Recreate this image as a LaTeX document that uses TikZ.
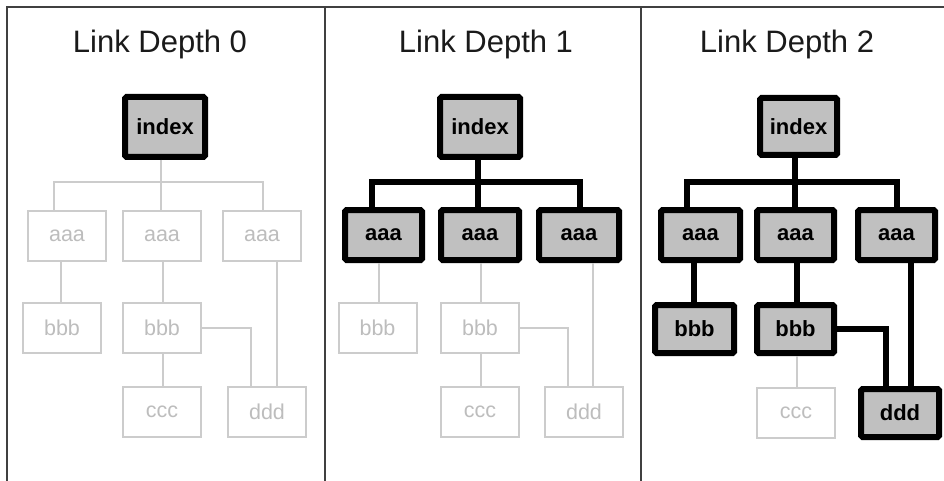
\documentclass[tikz,border=0pt]{standalone}
\usepackage{fontspec}
\setmainfont{Liberation Sans}
\definecolor{framec}{HTML}{404040}
\definecolor{offline}{HTML}{CCCCCC}
\definecolor{offtext}{HTML}{BDBDBD}
\definecolor{onfill}{HTML}{C0C0C0}
\definecolor{titlec}{HTML}{1A1A1A}
\begin{document}
\begin{tikzpicture}[x=1pt,y=-1pt,
  framel/.style={draw=framec,line width=2pt},
  title/.style={anchor=base,font=\fontsize{31}{31}\selectfont,text=titlec,inner sep=0pt},
  onbox/.style={draw=black,line width=6pt,fill=onfill,rounded corners=1.5pt,
    font=\fontsize{22}{22}\selectfont\bfseries,inner sep=0pt,
    minimum width=78pt,minimum height=50pt},
  offbox/.style={draw=offline,line width=2pt,fill=white,text=offtext,
    font=\fontsize{21.5}{21.5}\selectfont,inner sep=0pt,
    minimum width=78pt,minimum height=50pt},
  onln/.style={draw=black,line width=6pt},
  offln/.style={draw=offline,line width=2pt}]
\useasboundingbox (0,0) rectangle (944,481);
% frame
\draw[framel] (7,481) -- (7,7) -- (944,7);
\draw[framel] (325,7) -- (325,481);
\draw[framel] (641,7) -- (641,481);
% titles
\node[title] (t0) at (160,53) {Link Depth 0};
\node[title] (t1) at (486,53) {Link Depth 1};
\node[title] (t2) at (787,53) {Link Depth 2};

% ---------------- Panel 0
\node[onbox,minimum width=80pt,minimum height=60pt] (i0) at (165,127) {index};
\node[offbox] (a01) at (67,236) {aaa};
\node[offbox] (a02) at (162,236) {aaa};
\node[offbox] (a03) at (262,236) {aaa};
\node[offbox] (b01) at (62,328) {bbb};
\node[offbox] (b02) at (162,328) {bbb};
\node[offbox] (c0) at (162,412) {ccc};
\node[offbox] (d0) at (267,412) {ddd};
\coordinate (l0) at (54,182);
\coordinate (m0) at (161,182);
\coordinate (r0) at (263,182);
\coordinate (v01) at (61,0);
\coordinate (v02) at (163,0);
\coordinate (k0) at (251,0);
\coordinate (w0) at (277,0);
\draw[offln] (i0.south -| m0) -- (m0);
\draw[offln] (a01.north -| l0) -- (l0) -- (r0) -- (a03.north -| r0);
\draw[offln] (m0) -- (a02.north -| m0);
\draw[offln] (a01.south -| v01) -- (b01.north -| v01);
\draw[offln] (a02.south -| v02) -- (b02.north -| v02);
\draw[offln] (b02.south -| v02) -- (c0.north -| v02);
\draw[offln] (b02.east) -- (b02.east -| k0) -- (d0.north -| k0);
\draw[offln] (a03.south -| w0) -- (d0.north -| w0);

% ---------------- Panel 1
\node[onbox,minimum width=80pt,minimum height=60pt] (i1) at (480,127) {index};
\node[onbox,minimum width=77pt] (a11) at (383.5,235) {aaa};
\node[onbox] (a12) at (480,235) {aaa};
\node[onbox,minimum width=80pt] (a13) at (579,235) {aaa};
\node[offbox] (b11) at (377.5,328) {bbb};
\node[offbox] (b12) at (480,328) {bbb};
\node[offbox] (c1) at (480,412) {ccc};
\node[offbox] (d1) at (584,412) {ddd};
\coordinate (l1) at (372,182);
\coordinate (m1) at (478,182);
\coordinate (r1) at (580,182);
\coordinate (v11) at (379,0);
\coordinate (v12) at (481,0);
\coordinate (k1) at (568,0);
\coordinate (w1) at (593,0);
\draw[offln] (a11.south -| v11) -- (b11.north -| v11);
\draw[offln] (a12.south -| v12) -- (b12.north -| v12);
\draw[offln] (b12.south -| v12) -- (c1.north -| v12);
\draw[offln] (b12.east) -- (b12.east -| k1) -- (d1.north -| k1);
\draw[offln] (a13.south -| w1) -- (d1.north -| w1);
\draw[onln] (i1.south -| m1) -- (m1);
\draw[onln] (a11.north -| l1) -- (l1) -- (r1) -- (a13.north -| r1);
\draw[onln] (m1) -- (a12.north -| m1);

% ---------------- Panel 2
\node[onbox,minimum width=77pt,minimum height=57pt] (i2) at (798.5,126.5) {index};
\node[onbox,minimum width=79pt] (a21) at (700.5,235) {aaa};
\node[onbox,minimum width=77pt] (a22) at (795.5,235) {aaa};
\node[onbox,minimum width=77pt] (a23) at (896.5,235) {aaa};
\node[onbox,minimum width=79pt,minimum height=48pt] (b21) at (694.5,329) {bbb};
\node[onbox,minimum width=77pt,minimum height=48pt] (b22) at (795.5,329) {bbb};
\node[offbox] (c2) at (796,412.5) {ccc};
\node[onbox,minimum height=48pt] (d2) at (900,413) {ddd};
\coordinate (l2) at (687,182);
\coordinate (m2) at (795,182);
\coordinate (r2) at (897,182);
\coordinate (v21) at (694,0);
\coordinate (v22) at (797,0);
\coordinate (k2) at (886,0);
\coordinate (w2) at (911,0);
\draw[offln] (b22.south -| v22) -- (c2.north -| v22);
\draw[onln] (i2.south -| m2) -- (m2);
\draw[onln] (a21.north -| l2) -- (l2) -- (r2) -- (a23.north -| r2);
\draw[onln] (m2) -- (a22.north -| m2);
\draw[onln] (a21.south -| v21) -- (b21.north -| v21);
\draw[onln] (a22.south -| v22) -- (b22.north -| v22);
\draw[onln] (b22.east) -- (b22.east -| k2) -- (d2.north -| k2);
\draw[onln] (a23.south -| w2) -- (d2.north -| w2);
\end{tikzpicture}
\end{document}
